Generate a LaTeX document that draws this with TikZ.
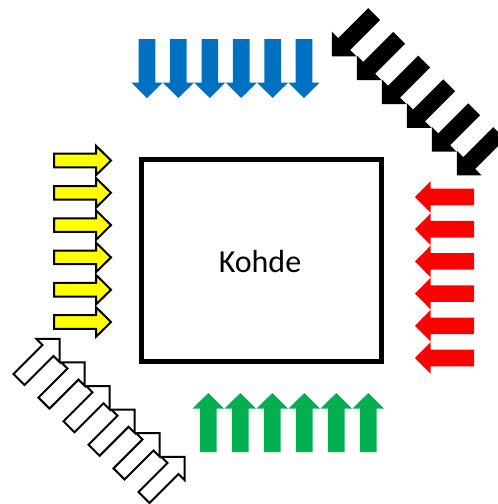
\documentclass[tikz,border=0pt]{standalone}
\usepackage{fontspec}
\setmainfont{Carlito}
\definecolor{arrblue}{HTML}{0070C0}
\definecolor{arrgreen}{HTML}{00B050}
\definecolor{arrred}{HTML}{FF0000}
\definecolor{arryellow}{HTML}{FFFF00}
\tikzset{
  arr/.pic={\path[pic actions] (0,-8.3) -- (43.5,-8.3) -- (43.5,-15.7) -- (59,0) -- (43.5,15.7) -- (43.5,8.3) -- (0,8.3) -- cycle;},
  arrbig/.pic={\path[pic actions] (0,-8.4) -- (42.5,-8.4) -- (42.5,-17.5) -- (60,0) -- (42.5,17.5) -- (42.5,8.4) -- (0,8.4) -- cycle;},
  arro/.pic={\path[pic actions] (0,-6.8) -- (42,-6.8) -- (42,-14.8) -- (57,0) -- (42,14.8) -- (42,6.8) -- (0,6.8) -- cycle;},
  arrobig/.pic={\path[pic actions] (0,-7.8) -- (41,-7.8) -- (41,-16.5) -- (57.5,0) -- (41,16.5) -- (41,7.8) -- (0,7.8) -- cycle;},
  outlined/.style={draw=black,line width=2pt,line join=miter},
  box/.style={draw=black,line width=5pt,minimum width=240pt,minimum height=202pt,inner sep=0pt},
}
\begin{document}
\begin{tikzpicture}[x=1pt,y=-1pt]
\useasboundingbox (0,0) rectangle (498,504);
% blue (down)
\foreach \i in {0,...,5}
  \pic[rotate=-90,fill=arrblue] at ({147+31.4*\i},39) {arr};
% green (up)
\foreach \i in {0,...,5}
  \pic[rotate=90,fill=arrgreen] at ({208.3+32*\i},452) {arr};
% red (left)
\foreach \i in {0,...,5}
  \pic[rotate=180,fill=arrred] at (474,{197+32.2*\i}) {arr};
% yellow (right)
\foreach \i in {0,...,5}
  \pic[rotate=0,fill=arryellow,outlined] at (54,{160.5+32.3*\i}) {arro};
% black (south-west)
\foreach \i in {0,...,5}
  \pic[rotate=-135,fill=black] at ({374.2+25*\i},{14+23.8*\i}) {arrbig};
% white (north-east)
\foreach \i in {0,...,5}
  \pic[rotate=45,fill=white,outlined] at ({19+25*\i},{379.5+23.6*\i}) {arrobig};
% object
\node[box] (kohde) at (261,260) {};
\node[font=\fontsize{32}{38}\selectfont] (label) at (260,261) {Kohde};
\end{tikzpicture}
\end{document}
